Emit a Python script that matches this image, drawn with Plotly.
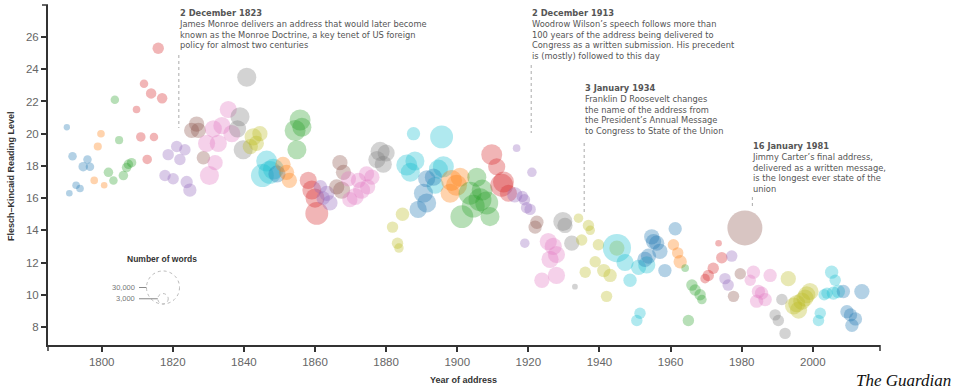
import plotly.graph_objects as go
import math

# ---------------- data ----------------
presidents = [
    "Washington", "J. Adams", "Jefferson", "Madison", "Monroe", "J. Q. Adams",
    "Jackson", "Van Buren", "Tyler", "Polk", "Taylor", "Fillmore", "Pierce",
    "Buchanan", "Lincoln", "A. Johnson", "Grant", "Hayes", "Arthur", "Cleveland",
    "B. Harrison", "McKinley", "T. Roosevelt", "Taft", "Wilson", "Harding",
    "Coolidge", "Hoover", "F. D. Roosevelt", "Truman", "Eisenhower", "Kennedy",
    "L. B. Johnson", "Nixon", "Ford", "Carter", "Reagan", "G. H. W. Bush",
    "Clinton", "G. W. Bush", "Obama",
]

years = [
    [1790.2, 1790.9, 1791.8, 1792.8, 1793.9, 1794.8, 1796.0, 1796.7],
    [1797.9, 1798.9, 1799.8, 1800.7],
    [1801.9, 1803.3, 1803.7, 1804.9, 1806.1, 1807.0, 1807.5, 1808.4],
    [1809.8, 1811.0, 1811.9, 1812.8, 1813.9, 1814.7, 1815.9, 1817.0],
    [1817.8, 1818.7, 1820.1, 1821.1, 1822.0, 1823.4, 1823.9, 1824.8],
    [1825.3, 1826.7, 1827.2, 1828.6],
    [1829.5, 1830.3, 1831.4, 1831.9, 1832.8, 1833.8, 1835.6, 1836.6],
    [1838.2, 1838.9, 1839.8, 1840.8],
    [1841.8, 1842.6, 1843.5, 1844.5],
    [1845.2, 1846.4, 1847.3, 1848.3],
    [1849.3],
    [1851.0, 1852.0, 1852.8],
    [1854.4, 1854.9, 1855.8, 1856.3],
    [1858.1, 1859.1, 1860.0, 1860.5],
    [1861.5, 1862.3, 1863.3, 1864.2],
    [1866.1, 1867.0, 1867.5, 1868.0],
    [1869.4, 1869.8, 1871.3, 1872.2, 1873.1, 1874.5, 1874.8, 1876.0],
    [1877.4, 1878.3, 1879.2, 1880.0],
    [1881.8, 1883.2, 1883.6, 1884.6],
    [1885.8, 1886.8, 1887.7, 1888.1, 1893.8, 1894.7, 1895.6, 1896.1],
    [1889.0, 1890.5, 1891.4, 1891.4, 1893.3],
    [1898.0, 1898.4, 1899.8, 1900.8],
    [1901.3, 1903.6, 1904.5, 1905.5, 1906.4, 1907.0, 1908.3, 1909.2],
    [1909.7, 1911.1, 1912.5, 1913.0, 1914.4],
    [1916.2, 1916.7, 1918.3, 1918.9, 1919.0, 1919.5, 1920.5, 1921.0],
    [1921.9, 1922.4],
    [1923.8, 1925.6, 1926.1, 1927.0, 1927.9, 1927.9],
    [1929.7, 1930.3, 1932.2, 1933.1],
    [1934.1, 1935.0, 1936.0, 1936.9, 1937.4, 1938.8, 1939.7, 1941.2, 1942.0, 1943.0, 1944.9],
    [1944.9, 1947.2, 1948.6, 1950.5, 1951.0, 1951.4, 1953.3],
    [1952.8, 1953.8, 1954.7, 1955.2, 1956.1, 1957.0, 1958.4, 1961.3],
    [1960.8, 1962.0, 1962.7],
    [1964.1, 1965.0, 1966.0, 1966.9, 1968.3, 1968.8],
    [1969.7, 1970.6, 1972.0, 1973.5, 1974.4],
    [1975.3, 1976.2, 1977.2],
    [1977.7, 1979.6, 1980.9],
    [1982.4, 1983.3, 1984.2, 1984.7, 1985.6, 1986.6, 1988.0],
    [1989.4, 1990.3, 1991.3, 1992.2],
    [1993.1, 1994.6, 1995.5, 1996.0, 1996.9, 1997.8, 1998.3, 1999.2],
    [2001.6, 2002.1, 2003.2, 2004.0, 2005.3, 2005.8, 2006.3, 2007.2],
    [2008.6, 2009.6, 2010.6, 2011.0, 2012.0, 2013.8],
]

levels = [
    [20.4, 16.3, 18.6, 16.8, 16.6, 17.95, 18.4, 17.95],
    [17.1, 19.2, 20.0, 16.8],
    [17.6, 17.1, 22.1, 19.6, 17.4, 17.9, 18.1, 18.2],
    [21.5, 19.8, 23.1, 18.4, 22.5, 19.8, 25.3, 22.2],
    [17.4, 18.7, 17.2, 19.2, 18.4, 19.0, 17.0, 16.5],
    [20.2, 20.6, 20.2, 18.5],
    [19.4, 17.4, 20.3, 18.2, 19.4, 20.5, 21.5, 20.0],
    [20.3, 21.05, 19.0, 23.5],
    [19.2, 19.8, 19.4, 20.0],
    [17.4, 18.3, 17.6, 17.8],
    [17.5],
    [18.1, 17.6, 17.1],
    [20.2, 19.0, 20.85, 20.4],
    [17.1, 16.5, 16.0, 15.05],
    [16.7, 16.0, 16.3, 15.7],
    [16.7, 18.2, 16.5, 17.6],
    [17.2, 15.9, 16.1, 17.1, 16.5, 17.5, 16.7, 17.3],
    [18.4, 18.9, 18.1, 18.8],
    [14.2, 13.2, 12.9, 15.0],
    [18.05, 17.6, 20.0, 18.3, 16.8, 17.8, 19.8, 17.95],
    [15.3, 16.3, 17.2, 15.7, 17.3],
    [16.3, 17.1, 16.8, 17.3],
    [14.85, 16.3, 15.5, 17.3, 15.9, 16.5, 15.7, 14.85],
    [18.7, 17.95, 16.8, 17.0, 16.3],
    [16.2, 19.1, 16.1, 15.9, 13.2, 15.4, 15.3, 17.6],
    [14.2, 14.5],
    [10.9, 13.3, 12.2, 13.0, 12.5, 11.2],
    [14.55, 14.3, 13.2, 10.5],
    [14.75, 13.4, 11.4, 14.3, 14.0, 12.05, 13.1, 11.5, 9.9, 11.2, 12.9],
    [12.9, 12.0, 10.9, 8.4, 11.7, 8.85, 11.85],
    [12.2, 12.4, 13.6, 13.3, 13.2, 12.7, 11.5, 14.1],
    [13.1, 12.6, 12.05],
    [11.65, 8.4, 10.6, 10.3, 10.0, 9.7],
    [11.0, 11.2, 11.65, 13.2, 12.3],
    [11.0, 10.6, 12.4],
    [9.9, 11.3, 14.15],
    [10.9, 11.4, 9.6, 10.2, 10.1, 9.7, 11.2],
    [8.75, 8.4, 9.7, 7.6],
    [11.0, 9.3, 9.45, 9.05, 9.6, 9.8, 10.0, 10.2],
    [8.4, 8.85, 10.0, 10.1, 11.4, 10.1, 10.9, 10.2],
    [10.2, 8.95, 8.75, 8.1, 8.5, 10.2],
]

words = [
    [1100, 1200, 2000, 1600, 1600, 2500, 2000, 2000],
    [1600, 1800, 1600, 1200],
    [2500, 2000, 2000, 1800, 2500, 2500, 2500, 2500],
    [1600, 2500, 2000, 2500, 3000, 2000, 3600, 3000],
    [3600, 3600, 3600, 3600, 3600, 3600, 4200, 4900],
    [6400, 6400, 6400, 5000],
    [8100, 10000, 8100, 6400, 8100, 8100, 8100, 8100],
    [8100, 10000, 10000, 10000],
    [6400, 8100, 6400, 6400],
    [14400, 12100, 14400, 12100],
    [8100],
    [6400, 6400, 6400],
    [12100, 10000, 12100, 10000],
    [8100, 10000, 10000, 14400],
    [5000, 5000, 6400, 6400],
    [6400, 6400, 8100, 6400],
    [6400, 6400, 8100, 6400, 8100, 6400, 6400, 6400],
    [8100, 10000, 8100, 8100],
    [3600, 3600, 2500, 5000],
    [12100, 10000, 4900, 10000, 8100, 10000, 14400, 12100],
    [8100, 10000, 8100, 10000, 8100],
    [10000, 12100, 12100, 10000],
    [14400, 14400, 14400, 10000, 14400, 12100, 14400, 10000],
    [12100, 8100, 14400, 12100, 8100],
    [6400, 1600, 3600, 3600, 2500, 3600, 3600, 2500],
    [4900, 4900],
    [6400, 8100, 8100, 8100, 8100, 8100],
    [10000, 6400, 6400, 900],
    [2500, 3600, 3600, 3600, 2500, 3600, 3600, 4900, 3600, 4900, 6400],
    [22000, 8100, 4900, 3600, 6400, 3600, 8100],
    [6400, 6400, 6400, 6400, 6400, 6400, 4900, 4900],
    [3600, 3600, 4900],
    [1600, 3600, 3600, 3600, 3600, 2500],
    [2500, 3600, 3600, 1200, 3600],
    [3600, 3600, 3600],
    [3600, 3600, 33667],
    [3600, 4900, 4900, 4900, 4900, 4900, 4900],
    [3600, 3600, 3600, 3600],
    [6400, 8100, 8100, 8100, 8100, 8100, 8100, 8100],
    [3600, 3600, 3600, 3600, 4900, 4900, 3600, 4900],
    [4900, 4900, 4900, 4900, 4900, 6400],
]

x_ticks = [1800, 1820, 1840, 1860, 1880, 1900, 1920, 1940, 1960, 1980, 2000]
y_ticks = [8, 10, 12, 14, 16, 18, 20, 22, 24, 26]
legend_words = [30000, 3000]
legend_labels = ["30,000", "3,000"]

events = [
    ("2 December 1823",
     ["James Monroe delivers an address that would later become",
      "known as the Monroe Doctrine, a key tenet of US foreign",
      "policy for almost two centuries"]),
    ("2 December 1913",
     ["Woodrow Wilson\u2019s speech follows more than",
      "100 years of the address being delivered to",
      "Congress as a written submission. His precedent",
      "is (mostly) followed to this day"]),
    ("3 January 1934",
     ["Franklin D Roosevelt changes",
      "the name of the address from",
      "the President\u2019s Annual Message",
      "to Congress to State of the Union"]),
    ("16 January 1981",
     ["Jimmy Carter\u2019s final address,",
      "delivered as a written message,",
      "is the longest ever state of the",
      "union"]),
]
event_marker_year = [1821.7, 1920.8, 1935.7, 1983.0]

# ---------------- styling / layout ----------------
palette = ["#1f77b4", "#ff7f0e", "#2ca02c", "#d62728", "#9467bd",
           "#8c564b", "#e377c2", "#7f7f7f", "#bcbd22", "#17becf"]
SIZEREF = 55.0

W, H = 960, 392
PL, PR, PT, PB = 48, 880, 5, 345


def xp(px):
    return (px - PL) / (PR - PL)


def yp(py):
    return (PB - py) / (PB - PT)


fig = go.Figure()
for i, name in enumerate(presidents):
    fig.add_trace(go.Scatter(
        x=years[i], y=levels[i], mode="markers", name=name,
        marker=dict(size=words[i], sizemode="area", sizeref=SIZEREF,
                    color=palette[i % 10], opacity=0.34,
                    line=dict(width=0)),
        hovertemplate=name + "<br>%{x:.0f}: %{y}<extra></extra>",
        showlegend=False,
    ))

annotations = []
shapes = []

# event notes
text_pos = [(178, 7), (531, 7), (584, 82), (751, 140)]
line_span = [(55, 128), (65, 133), (143, 213), (197, 209)]
for (title, lines), (tx, ty), ex, (l0, l1) in zip(events, text_pos, event_marker_year, line_span):
    txt = "<b>" + title + "</b><br>" + "<br>".join(lines)
    annotations.append(dict(
        x=xp(tx), y=yp(ty), xref="paper", yref="paper", text=txt,
        showarrow=False, xanchor="left", yanchor="top", align="left",
        font=dict(family="DejaVu Sans, Verdana, sans-serif", size=8.3, color="#555"),
        borderpad=0,
    ))
    shapes.append(dict(type="line", xref="x", yref="paper", x0=ex, x1=ex,
                       y0=yp(l0), y1=yp(l1),
                       line=dict(color="#aaa", width=1, dash="dot")))

# size legend
annotations.append(dict(x=xp(162), y=yp(259), xref="paper", yref="paper",
                        xanchor="center", yanchor="middle",
                        text="<b>Number of words</b>", showarrow=False,
                        font=dict(family="Liberation Sans, Arial, sans-serif", size=8.5, color="#333")))
base_px = 304
cx = 163
label_y = []
for wv in legend_words:
    r = math.sqrt(wv / (2 * SIZEREF))
    shapes.append(dict(type="circle", xref="paper", yref="paper",
                       xsizemode="pixel", ysizemode="pixel",
                       xanchor=xp(cx), yanchor=yp(base_px),
                       x0=-r, x1=r, y0=0, y1=2 * r,
                       line=dict(color="#bbb", width=1, dash="dot")))
    label_y.append((base_px - r, cx - r))
for lab, (ly, left_edge) in zip(legend_labels, label_y):
    annotations.append(dict(x=xp(137), y=yp(ly), xref="paper", yref="paper",
                            text=lab, showarrow=False, xanchor="right", yanchor="middle",
                            font=dict(family="Liberation Sans, Arial, sans-serif", size=7.5, color="#777")))
    shapes.append(dict(type="line", xref="paper", yref="paper",
                       x0=xp(139), x1=xp(left_edge), y0=yp(ly), y1=yp(ly),
                       line=dict(color="#888", width=1)))

# axis titles and credit
annotations.append(dict(x=xp(463), y=yp(380), xref="paper", yref="paper",
                        xanchor="center", yanchor="middle",
                        text="<b>Year of address</b>", showarrow=False,
                        font=dict(family="Liberation Sans Narrow, Liberation Sans, Arial, sans-serif",
                                  size=9, color="#333")))
annotations.append(dict(x=xp(11), y=yp(176), xref="paper", yref="paper",
                        xanchor="center", yanchor="middle",
                        text="<b>Flesch\u2013Kincaid Reading Level</b>", showarrow=False,
                        textangle=-90,
                        font=dict(family="Liberation Sans Narrow, Liberation Sans, Arial, sans-serif",
                                  size=9, color="#333")))
annotations.append(dict(x=xp(903), y=yp(380), xref="paper", yref="paper",
                        xanchor="center", yanchor="middle",
                        text="<i>The Guardian</i>", showarrow=False,
                        font=dict(family="Liberation Serif, Times New Roman, serif",
                                  size=17, color="#111")))

# d3-style outer ticks at axis ends
axis_col = "#333"
shapes.append(dict(type="line", xref="paper", yref="paper", x0=xp(42), x1=xp(48),
                   y0=1, y1=1, line=dict(color=axis_col, width=1.5)))
shapes.append(dict(type="line", xref="paper", yref="paper", x0=0, x1=0,
                   y0=0, y1=yp(351), line=dict(color=axis_col, width=1.5)))
shapes.append(dict(type="line", xref="paper", yref="paper", x0=1, x1=1,
                   y0=0, y1=yp(351), line=dict(color=axis_col, width=1.5)))

tick_font = dict(family="Liberation Sans Narrow, Liberation Sans, Arial, sans-serif",
                 size=11.5, color="#666")

fig.update_layout(
    width=W, height=H,
    margin=dict(l=PL, r=W - PR, t=PT, b=H - PB, pad=0),
    paper_bgcolor="white", plot_bgcolor="white",
    xaxis=dict(range=[1784.9, 2018.9], tickvals=x_ticks,
               ticktext=[str(v) for v in x_ticks],
               showgrid=False, zeroline=False, showline=True,
               linecolor=axis_col, linewidth=2, ticks="outside",
               ticklen=5, tickwidth=1.5, tickcolor=axis_col,
               tickfont=tick_font, fixedrange=True),
    yaxis=dict(range=[6.88, 27.99], tickvals=y_ticks,
               ticktext=[str(v) for v in y_ticks],
               showgrid=False, zeroline=False, showline=True,
               linecolor=axis_col, linewidth=2, ticks="outside",
               ticklen=5, tickwidth=1.5, tickcolor=axis_col,
               tickfont=tick_font, fixedrange=True),
    annotations=annotations,
    shapes=shapes,
    showlegend=False,
)

fig.write_html(
    "out.html",
    config={"displayModeBar": False},
    post_script="document.body.style.margin='0';document.body.style.overflow='hidden';",
)
